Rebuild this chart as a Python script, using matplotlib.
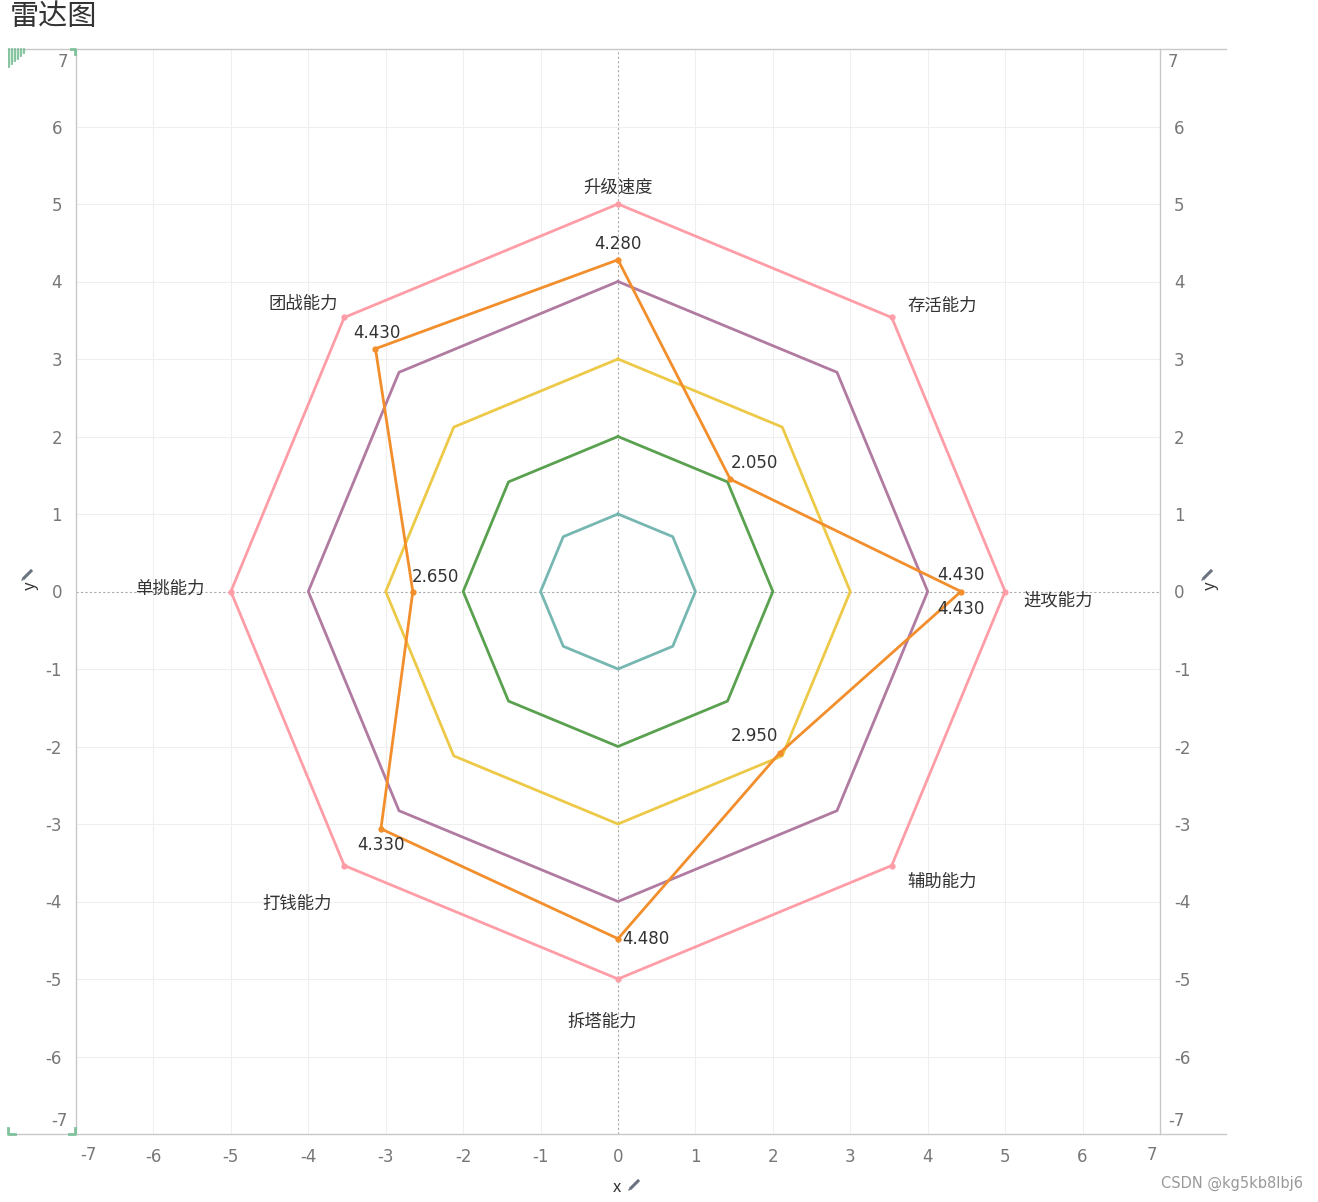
import numpy as np
import matplotlib
matplotlib.use("Agg")
import matplotlib.pyplot as plt
from matplotlib.lines import Line2D
from matplotlib.patches import Polygon
import matplotlib.transforms as mtransforms

plt.rcParams['font.family'] = ['Noto Sans CJK SC', 'DejaVu Sans']
plt.rcParams['axes.unicode_minus'] = False

# categories clockwise from the top
categories = ["升级速度", "存活能力", "进攻能力", "辅助能力", "拆塔能力", "打钱能力", "单挑能力", "团战能力"]
scores = [4.28, 2.05, 4.43, 2.95, 4.48, 4.33, 2.65, 4.43]
rings = [1, 2, 3, 4, 5]
ring_colors = ["#76b7b2", "#59a14f", "#edc948", "#b07aa1", "#ff9da7"]
score_color = "#f28e2b"
ticks = list(range(-7, 8))

# where the category names sit (data coords)
label_xy = [(0, 5.21), (4.19, 3.69), (5.68, -0.12), (4.18, -3.75),
            (-0.21, -5.55), (-4.14, -4.03), (-5.79, 0.03), (-4.06, 3.71)]
# value label offsets in pixels (dx, dy)
val_off = [(0, 16), (24, 16), (0, 16), (-25, 17), (28, 0), (0, -16), (23, 15), (1, 16)]

W, H = 1318, 1202
PX = 0.72  # points per pixel at dpi 100


def fx(px):
    return px / W


def fy(py):
    return 1 - py / H


angles = np.pi / 2 - np.arange(len(categories)) * 2 * np.pi / len(categories)

fig = plt.figure(figsize=(W / 100, H / 100), dpi=100)
ax = fig.add_axes([fx(76), fy(1134), 1084 / W, 1085 / H])
ax.set_xlim(-7, 7)
ax.set_ylim(-7, 7)

# grid
for t in ticks:
    if t == 0 or abs(t) == 7:
        continue
    ax.axvline(t, color="#efefef", lw=0.8, zorder=0)
    ax.axhline(t, color="#efefef", lw=0.8, zorder=0)
ax.axvline(0, color="#aaaaaa", lw=0.8, ls=(0, (2, 2)), zorder=0)
ax.axhline(0, color="#aaaaaa", lw=0.8, ls=(0, (2, 2)), zorder=0)

# reference rings
for r, c in zip(rings, ring_colors):
    xs = np.append(r * np.cos(angles), r * np.cos(angles[0]))
    ys = np.append(r * np.sin(angles), r * np.sin(angles[0]))
    ax.plot(xs, ys, color=c, lw=2.0, zorder=2)
    if r == 5:
        ax.plot(xs[:-1], ys[:-1], "o", color=c, ms=3.5, zorder=3)

# scores
sx = np.array(scores) * np.cos(angles)
sy = np.array(scores) * np.sin(angles)
ax.plot(np.append(sx, sx[0]), np.append(sy, sy[0]), color=score_color, lw=2.0, zorder=4)
ax.plot(sx, sy, "o", color=score_color, ms=3.5, zorder=5)

for i, v in enumerate(scores):
    dx, dy = val_off[i]
    ax.annotate(f"{v:.3f}", (sx[i], sy[i]), xytext=(dx * PX, dy * PX), textcoords="offset points",
                ha="center", va="center", fontsize=12, color="#333333", zorder=6,
                family=['DejaVu Sans'])
# closing point of the polygon is labelled again below it
ax.annotate(f"{scores[2]:.3f}", (sx[2], sy[2]), xytext=(0, -17 * PX), textcoords="offset points",
            ha="center", va="center", fontsize=12, color="#333333", zorder=6,
            family=['DejaVu Sans'])

for name, (lx, ly) in zip(categories, label_xy):
    ax.text(lx, ly, name, ha="center", va="center", fontsize=12.5, color="#333333")

# axes styling: inner ticks normal, +-7 drawn pulled inside like the original
inner = [t for t in ticks if abs(t) != 7]
ax.set_xticks(inner)
ax.set_yticks(inner)
ax.tick_params(length=0, labelsize=12, labelcolor="#777777", pad=10)
ax.tick_params(axis="y", right=True, labelright=True)
for lab in ax.get_xticklabels() + ax.get_yticklabels():
    lab.set_family('DejaVu Sans')

tick_kw = dict(fontsize=12, color="#777777", family=['DejaVu Sans'])
xb = mtransforms.blended_transform_factory(ax.transData, fig.transFigure)
yb = mtransforms.blended_transform_factory(fig.transFigure, ax.transData)
for t in (-7, 7):
    sh = 0.155 if t < 0 else -0.11
    ax.text(t + sh, fy(1155), str(t), transform=xb, ha="center", va="center", **tick_kw)
    ysh = 0.17 if t < 0 else -0.17
    ax.text(fx(68), t + ysh, str(t), transform=yb, ha="right", va="center", **tick_kw)
    ax.text(fx(1168), t + ysh, str(t), transform=yb, ha="left", va="center", **tick_kw)

for s in ["left", "right", "top", "bottom"]:
    ax.spines[s].set_color("#c8c8c8")
    ax.spines[s].set_linewidth(1.0)
ax.spines["top"].set_visible(False)
ax.spines["bottom"].set_visible(False)

# frame lines running past the axes
for yy in (49, 1134):
    fig.add_artist(Line2D([fx(8), fx(1226)], [fy(yy), fy(yy)], color="#c8c8c8", lw=1.0))

# axis names with pins
fig.text(fx(30), fy(586), "y", rotation=90, ha="center", va="center", fontsize=12, color="#333333")
fig.text(fx(1210), fy(586), "y", rotation=90, ha="center", va="center", fontsize=12, color="#333333")
fig.text(fx(617), fy(1187), "x", ha="center", va="center", fontsize=12, color="#333333")
for px, py in [(28, 574), (1208, 574), (635, 1184)]:
    fig.add_artist(Line2D([fx(px - 4), fx(px + 3)], [fy(py + 4), fy(py - 3)], color="#6b7280", lw=2.2))
    fig.add_artist(Line2D([fx(px - 6), fx(px - 3)], [fy(py + 6), fy(py + 3)], color="#6b7280", lw=1.0))

# green corner marks
green = "#7fc29b"
tri = Polygon([[fx(8), fy(49)], [fx(28), fy(49)], [fx(8), fy(68)]], closed=True,
              facecolor="#dcefe3", edgecolor="none")
fig.add_artist(tri)
for k in range(9, 27, 3):
    fig.add_artist(Line2D([fx(k), fx(k)], [fy(49), fy(49 + (28 - k) * 19 / 20)], color=green, lw=1.3))
for xs_, ys_ in [([8, 8, 15], [1128, 1134, 1134]), ([69, 75, 75], [1134, 1134, 1128]),
                 ([71, 75, 75], [49, 49, 54])]:
    fig.add_artist(Line2D([fx(v) for v in xs_], [fy(v) for v in ys_], color=green, lw=2.0))

fig.text(fx(10), fy(17), "雷达图", ha="left", va="center", fontsize=21, color="#333333")
fig.text(fx(1303), fy(1183), "CSDN @kg5kb8lbj6", ha="right", va="center",
         fontsize=10.5, color="#999999", family=['DejaVu Sans'])

fig.savefig("out.png", dpi=100)
